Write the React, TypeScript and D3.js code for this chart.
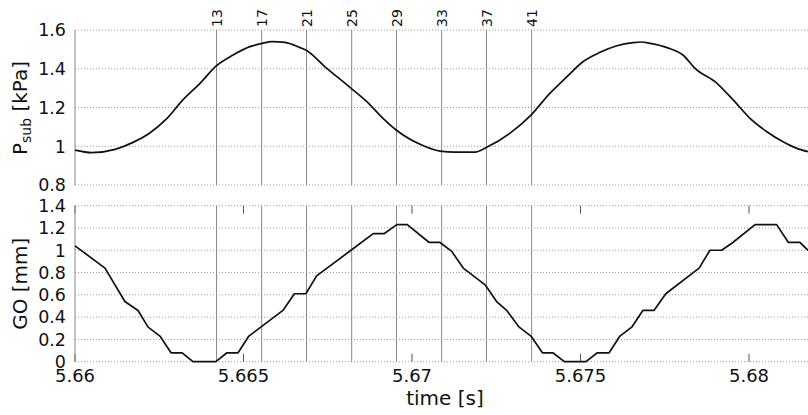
import React, { useEffect, useRef } from "react";
import * as d3 from "d3";

// subglottal pressure [kPa]
const psubTime = [
  5.66, 5.6605, 5.66119, 5.66172, 5.66223, 5.66273, 5.6632, 5.66371, 5.6642, 5.66469,
  5.66519, 5.66555, 5.66585, 5.66623, 5.66668, 5.66685, 5.66742, 5.66816, 5.66866, 5.66914,
  5.66953, 5.67024, 5.67083, 5.67128, 5.67187, 5.67223, 5.67291, 5.67353, 5.67409, 5.6746,
  5.67507, 5.67558, 5.67608, 5.67656, 5.67682, 5.67706, 5.67757, 5.67804, 5.6784, 5.67905,
  5.67953, 5.68003, 5.68053, 5.68101, 5.68142, 5.68175,
];
const psubValue = [
  0.98, 0.967, 0.984, 1.02, 1.07, 1.144, 1.239, 1.325, 1.416, 1.471,
  1.514, 1.531, 1.54, 1.536, 1.509, 1.497, 1.41, 1.304, 1.23, 1.144,
  1.084, 1.01, 0.975, 0.97, 0.97, 0.996, 1.068, 1.161, 1.273, 1.359,
  1.436, 1.485, 1.519, 1.535, 1.538, 1.531, 1.509, 1.471, 1.402, 1.325,
  1.239, 1.144, 1.075, 1.023, 0.989, 0.972,
];

// glottal opening [mm]
const goTime = [
  5.66, 5.66089, 5.66148, 5.66187, 5.66217, 5.66252, 5.66285, 5.66318, 5.6635, 5.66418,
  5.66451, 5.66484, 5.66516, 5.66617, 5.66651, 5.66685, 5.66717, 5.66819, 5.66885, 5.66918,
  5.66955, 5.66986, 5.67051, 5.67083, 5.67118, 5.67152, 5.67217, 5.67251, 5.67281, 5.67318,
  5.67353, 5.67387, 5.67418, 5.67452, 5.67516, 5.6755, 5.67585, 5.67617, 5.67652, 5.67685,
  5.67718, 5.67753, 5.67852, 5.67884, 5.67919, 5.67952, 5.68018, 5.68082, 5.68117, 5.68151,
  5.68175,
];
const goValue = [
  1.04, 0.84, 0.54, 0.46, 0.31, 0.23, 0.08, 0.08, 0, 0,
  0.08, 0.08, 0.23, 0.46, 0.61, 0.61, 0.77, 1.0, 1.15, 1.15,
  1.23, 1.23, 1.07, 1.07, 0.99, 0.84, 0.69, 0.54, 0.46, 0.31,
  0.23, 0.08, 0.08, 0, 0, 0.08, 0.08, 0.23, 0.31, 0.46,
  0.46, 0.61, 0.84, 1.0, 1.0, 1.07, 1.23, 1.23, 1.07, 1.07,
  1.0,
];

// marked video frames
const frameNumbers = [13, 17, 21, 25, 29, 33, 37, 41];
const frameTimes = [5.6642, 5.66554, 5.66687, 5.66821, 5.66954, 5.67088, 5.67221, 5.67355];

const xTicks = [5.66, 5.665, 5.67, 5.675, 5.68];
const xTickLabels = ["5.66", "5.665", "5.67", "5.675", "5.68"];
const psubTicks = [0.8, 1.0, 1.2, 1.4, 1.6];
const psubTickLabels = ["0.8", "1", "1.2", "1.4", "1.6"];
const goTicks = [0, 0.2, 0.4, 0.6, 0.8, 1.0, 1.2, 1.4];
const goTickLabels = ["0", "0.2", "0.4", "0.6", "0.8", "1", "1.2", "1.4"];

const App = () => {
  const svgRef = useRef<SVGSVGElement>(null);

  useEffect(() => {
    const width = 808;
    const height = 415;
    const font = "'DejaVu Sans', sans-serif";

    const svg = d3.select(svgRef.current);
    svg.selectAll("*").remove();
    svg.attr("width", width).attr("height", height);

    const x = d3.scaleLinear().domain([5.66, 5.682]).range([75, 816.4]);

    const panels = [
      {
        y: d3.scaleLinear().domain([0.8, 1.6]).range([185, 30]),
        ticks: psubTicks,
        tickLabels: psubTickLabels,
        t: psubTime,
        v: psubValue,
        curve: d3.curveMonotoneX,
        top: true,
      },
      {
        y: d3.scaleLinear().domain([0, 1.4]).range([361.7, 205.7]),
        ticks: goTicks,
        tickLabels: goTickLabels,
        t: goTime,
        v: goValue,
        curve: d3.curveLinear,
        top: false,
      },
    ];

    panels.forEach((p) => {
      const [yBottom, yTop] = p.y.range();
      const g = svg.append("g");

      // dotted horizontal grid
      g.selectAll(".grid")
        .data(p.ticks)
        .enter()
        .append("line")
        .attr("x1", x.range()[0])
        .attr("x2", width)
        .attr("y1", (d) => p.y(d))
        .attr("y2", (d) => p.y(d))
        .attr("stroke", "#999")
        .attr("stroke-width", 1)
        .attr("stroke-dasharray", "1,2");

      // frame markers
      g.selectAll(".frame")
        .data(frameTimes)
        .enter()
        .append("line")
        .attr("x1", (d) => x(d))
        .attr("x2", (d) => x(d))
        .attr("y1", yTop)
        .attr("y2", yBottom)
        .attr("stroke", "#888")
        .attr("stroke-width", 1);

      if (!p.top) {
        // x ticks, inward at top and bottom
        xTicks.forEach((t) => {
          g.append("line")
            .attr("x1", x(t)).attr("x2", x(t))
            .attr("y1", yTop).attr("y2", yTop + 8)
            .attr("stroke", "#555");
          g.append("line")
            .attr("x1", x(t)).attr("x2", x(t))
            .attr("y1", yBottom).attr("y2", yBottom - 8)
            .attr("stroke", "#555");
        });
      }

      // left axis
      g.append("line")
        .attr("x1", x.range()[0])
        .attr("x2", x.range()[0])
        .attr("y1", yTop)
        .attr("y2", yBottom)
        .attr("stroke", "#888");

      g.selectAll(".ylab")
        .data(p.ticks)
        .enter()
        .append("text")
        .attr("x", 66)
        .attr("y", (d) => p.y(d))
        .attr("dy", "0.36em")
        .attr("text-anchor", "end")
        .attr("font-family", font)
        .attr("font-size", 17.5)
        .attr("fill", "#111")
        .text((_, i) => p.tickLabels[i]);

      const line = d3
        .line<number>()
        .x((_, i) => x(p.t[i]))
        .y((d) => p.y(d))
        .curve(p.curve);

      g.append("path")
        .datum(p.v)
        .attr("fill", "none")
        .attr("stroke", "#111")
        .attr("stroke-width", 1.7)
        .attr("stroke-linejoin", "round")
        .attr("d", line);
    });

    // frame numbers above the upper panel
    svg
      .selectAll(".frameLabel")
      .data(frameTimes)
      .enter()
      .append("text")
      .attr("transform", (d) => `translate(${x(d) + 5.5}, 27) rotate(-90)`)
      .attr("font-family", font)
      .attr("font-size", 14)
      .attr("fill", "#111")
      .text((_, i) => frameNumbers[i]);

    // x tick labels
    svg
      .selectAll(".xlab")
      .data(xTicks)
      .enter()
      .append("text")
      .attr("x", (d) => x(d))
      .attr("y", 382)
      .attr("text-anchor", "middle")
      .attr("font-family", font)
      .attr("font-size", 18)
      .attr("fill", "#111")
      .text((_, i) => xTickLabels[i]);

    svg
      .append("text")
      .attr("x", 445)
      .attr("y", 405)
      .attr("text-anchor", "middle")
      .attr("font-family", font)
      .attr("font-size", 20)
      .attr("fill", "#111")
      .text("time [s]");

    const psubLabel = svg
      .append("text")
      .attr("transform", "translate(27, 108) rotate(-90)")
      .attr("text-anchor", "middle")
      .attr("font-family", font)
      .attr("font-size", 20)
      .attr("fill", "#111");
    psubLabel.append("tspan").text("P");
    psubLabel.append("tspan").attr("font-size", 14).attr("dy", 4).text("sub");
    psubLabel.append("tspan").attr("dy", -4).text(" [kPa]");

    svg
      .append("text")
      .attr("transform", "translate(27, 283.7) rotate(-90)")
      .attr("text-anchor", "middle")
      .attr("font-family", font)
      .attr("font-size", 20)
      .attr("fill", "#111")
      .text("GO [mm]");
  }, []);

  return (
    <div style={{ position: "absolute", left: 0, top: 0, background: "#fff" }}>
      <svg ref={svgRef} style={{ display: "block" }}></svg>
    </div>
  );
};

export default App;
